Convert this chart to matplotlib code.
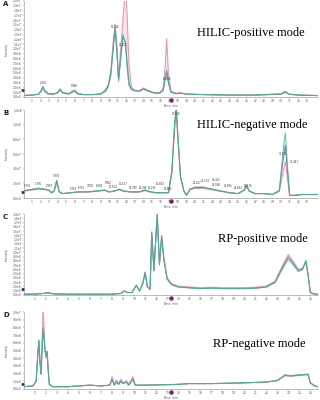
import numpy as np
import matplotlib
matplotlib.use("Agg")
import matplotlib.pyplot as plt
from matplotlib.ticker import FuncFormatter, MultipleLocator

# colours of the overlaid injections
C_GRAY = "#7d8a8f"
C_TEAL = "#3fb5a0"
C_PINK = "#e58fb0"

# ---- panel A : HILIC positive (intensity in 1e7 cps) ----
tA = [0.0, 1.0, 1.8, 2.1, 2.3, 2.5, 2.9, 3.5, 4.0, 4.3, 4.6, 5.0, 5.3, 5.7, 6.0, 6.3,
      7.0, 8.0, 9.0, 9.6, 9.9, 10.2, 10.5, 10.7, 10.9, 11.1, 11.3, 11.6, 11.9, 12.1,
      12.3, 12.6, 13.0, 13.5, 14.0, 14.5, 15.2, 15.9, 16.3, 16.5, 16.7, 16.9, 17.2,
      17.8, 18.3, 19.0, 21.0, 24.0, 27.0, 30.0, 30.5, 30.9, 32.0, 34.3]
grayA = [0.03, 0.04, 0.06, 0.14, 0.22, 0.14, 0.07, 0.06, 0.09, 0.17, 0.09, 0.07, 0.06,
         0.10, 0.12, 0.07, 0.05, 0.05, 0.06, 0.12, 0.22, 0.45, 1.05, 1.40, 0.95, 0.35,
         0.70, 1.25, 1.15, 0.70, 0.30, 0.16, 0.13, 0.12, 0.17, 0.13, 0.09, 0.08, 0.14,
         0.35, 0.52, 0.30, 0.10, 0.07, 0.08, 0.06, 0.05, 0.04, 0.04, 0.06, 0.10, 0.06,
         0.04, 0.03]
tealA = [0.03, 0.04, 0.06, 0.13, 0.20, 0.13, 0.07, 0.06, 0.09, 0.16, 0.09, 0.08, 0.07,
         0.12, 0.15, 0.08, 0.05, 0.05, 0.06, 0.14, 0.24, 0.50, 1.10, 1.46, 1.00, 0.33,
         0.75, 1.30, 1.10, 0.60, 0.25, 0.15, 0.13, 0.12, 0.16, 0.12, 0.08, 0.08, 0.15,
         0.38, 0.56, 0.30, 0.10, 0.07, 0.08, 0.06, 0.05, 0.04, 0.04, 0.07, 0.12, 0.06,
         0.04, 0.03]
pinkA = [0.03, 0.04, 0.05, 0.11, 0.18, 0.11, 0.06, 0.06, 0.08, 0.14, 0.08, 0.08, 0.07,
         0.11, 0.13, 0.07, 0.05, 0.05, 0.06, 0.16, 0.26, 0.55, 1.20, 1.52, 1.10, 0.38,
         0.90, 1.60, 2.30, 1.70, 0.70, 0.20, 0.14, 0.13, 0.19, 0.14, 0.09, 0.09, 0.20,
         0.60, 1.22, 0.50, 0.12, 0.08, 0.09, 0.06, 0.05, 0.04, 0.04, 0.06, 0.10, 0.06,
         0.04, 0.03]
peaksA = [(2.3, 0.26, "2.305"), (6.0, 0.19, "5.986"), (10.7, 1.42, "10.706"),
          (11.6, 1.05, "11.651"), (16.7, 0.34, "16.690")]

# ---- panel B : HILIC negative (intensity in 1e8 cps) ----
tB = [0.0, 0.5, 1.2, 1.8, 2.5, 3.0, 3.3, 3.6, 3.9, 4.2, 4.6, 5.5, 6.5, 7.5, 8.5, 9.5,
      10.0, 10.6, 11.2, 11.7, 12.5, 13.5, 14.2, 14.8, 15.5, 16.3, 16.9, 17.3, 17.6,
      17.8, 18.0, 18.3, 18.7, 19.0, 19.4, 20.0, 21.0, 22.0, 23.0, 24.0, 25.0, 25.7,
      26.0, 26.3, 27.0, 28.0, 29.0, 29.8, 30.2, 30.5, 30.8, 31.0, 31.5, 32.5, 34.3]
grayB = [0.096, 0.108, 0.120, 0.132, 0.120, 0.108, 0.072, 0.096, 0.240, 0.084, 0.060,
         0.072, 0.084, 0.084, 0.096, 0.108, 0.084, 0.096, 0.120, 0.096, 0.084, 0.084,
         0.108, 0.084, 0.072, 0.072, 0.072, 0.360, 0.960, 1.22, 0.840, 0.300, 0.096,
         0.036, 0.120, 0.144, 0.144, 0.120, 0.096, 0.072, 0.060, 0.108, 0.168, 0.096,
         0.060, 0.060, 0.048, 0.096, 0.480, 0.720, 0.300, 0.036, 0.036, 0.048, 0.048]
tealB = [0.096, 0.108, 0.120, 0.132, 0.120, 0.108, 0.072, 0.096, 0.230, 0.084, 0.060,
         0.072, 0.084, 0.084, 0.096, 0.108, 0.084, 0.096, 0.120, 0.096, 0.084, 0.084,
         0.108, 0.084, 0.072, 0.072, 0.072, 0.380, 1.000, 1.26, 0.860, 0.300, 0.096,
         0.036, 0.120, 0.150, 0.150, 0.120, 0.096, 0.072, 0.060, 0.110, 0.180, 0.096,
         0.060, 0.060, 0.048, 0.110, 0.600, 0.890, 0.360, 0.036, 0.036, 0.048, 0.048]
pinkB = [0.090, 0.100, 0.110, 0.120, 0.115, 0.100, 0.070, 0.090, 0.210, 0.080, 0.060,
         0.070, 0.080, 0.080, 0.090, 0.100, 0.080, 0.090, 0.110, 0.090, 0.080, 0.080,
         0.100, 0.080, 0.070, 0.070, 0.070, 0.340, 0.900, 1.18, 0.800, 0.280, 0.090,
         0.040, 0.110, 0.130, 0.130, 0.110, 0.090, 0.070, 0.060, 0.100, 0.150, 0.090,
         0.060, 0.060, 0.048, 0.090, 0.330, 0.500, 0.220, 0.036, 0.036, 0.048, 0.048]
peaksB = [(0.5, 0.14, "0.739"), (1.8, 0.17, "1.795"), (3.0, 0.14, "2.987"),
          (3.9, 0.27, "3.939"), (5.8, 0.10, "5.764"), (6.8, 0.11, "6.752"),
          (7.8, 0.13, "7.801"), (8.9, 0.14, "8.884"), (9.9, 0.18, "9.902"),
          (10.5, 0.12, "10.524"), (11.6, 0.17, "11.617"), (12.8, 0.11, "12.780"),
          (13.9, 0.11, "14.036"), (15.0, 0.11, "15.105"), (15.9, 0.17, "15.843"),
          (16.8, 0.10, "16.692"), (17.8, 1.12, "17.806"), (20.2, 0.18, "20.207"),
          (21.2, 0.20, "21.174"), (22.5, 0.22, "22.463"), (22.5, 0.15, "22.598"),
          (23.8, 0.14, "23.685"), (25.0, 0.11, "24.893"), (26.2, 0.13, "26.176"),
          (30.3, 0.57, "30.305"), (31.5, 0.47, "31.481")]

# ---- panel C : RP positive (intensity in 1e6 cps) ----
tC = [0.0, 1.0, 1.8, 2.2, 2.6, 4.0, 6.0, 8.0, 8.8, 9.1, 9.4, 9.8, 10.2, 10.5, 10.8,
      11.0, 11.2, 11.45, 11.6, 11.8, 12.1, 12.3, 12.5, 12.7, 13.0, 13.4, 14.0, 15.0,
      16.0, 17.0, 18.0, 19.0, 20.0, 21.0, 22.0, 22.8, 23.5, 24.0, 24.4, 24.9, 25.3,
      25.6, 25.8, 26.0, 26.4, 26.7]
grayC = [0.19, 0.19, 0.38, 0.57, 0.28, 0.19, 0.19, 0.19, 0.38, 0.95, 0.57, 0.57, 2.28,
         0.95, 2.85, 5.32, 1.90, 1.33, 14.8, 5.70, 19.0, 7.22, 13.9, 8.55, 3.80, 2.47,
         1.90, 1.71, 1.52, 1.62, 1.52, 1.52, 1.52, 1.62, 1.90, 3.04, 6.65, 8.93, 7.60,
         5.70, 6.08, 7.98, 4.75, 0.57, 0.19, 0.19]
tealC = [0.19, 0.19, 0.38, 0.50, 0.28, 0.19, 0.19, 0.19, 0.38, 0.90, 0.57, 0.57, 2.20,
         0.95, 2.70, 5.10, 1.90, 1.33, 14.2, 5.60, 18.6, 7.00, 13.5, 8.20, 3.70, 2.40,
         1.85, 1.66, 1.48, 1.57, 1.48, 1.48, 1.48, 1.57, 1.80, 2.90, 6.20, 8.36, 7.20,
         5.50, 5.90, 8.20, 4.60, 0.57, 0.19, 0.19]
pinkC = [0.19, 0.19, 0.38, 0.55, 0.28, 0.19, 0.19, 0.19, 0.38, 1.00, 0.60, 0.60, 2.35,
         1.00, 2.90, 5.40, 2.00, 1.40, 14.6, 5.90, 18.8, 7.40, 13.7, 8.70, 4.00, 2.66,
         2.09, 1.90, 1.71, 1.81, 1.71, 1.71, 1.71, 1.81, 2.09, 3.23, 7.00, 9.50, 8.10,
         6.10, 6.30, 7.60, 4.90, 0.60, 0.19, 0.19]

# ---- panel D : RP negative (intensity in 1e6 cps) ----
tD = [0.0, 0.8, 1.1, 1.25, 1.35, 1.45, 1.55, 1.65, 1.73, 1.82, 1.9, 2.0, 2.1, 2.2,
      2.3, 2.6, 4.0, 5.0, 6.0, 7.0, 7.8, 8.0, 8.2, 8.4, 8.6, 8.8, 9.0, 9.3, 9.5, 9.9,
      10.1, 11.0, 14.0, 15.0, 17.0, 20.0, 22.0, 23.0, 23.7, 24.2, 25.0, 25.8, 26.0,
      26.4, 26.7]
grayD = [0.30, 0.40, 1.00, 4.50, 6.30, 3.50, 1.90, 5.50, 7.80, 6.50, 5.00, 4.20, 4.90,
         2.50, 0.60, 0.30, 0.30, 0.40, 0.50, 0.40, 0.50, 1.30, 0.50, 0.90, 0.60, 1.00,
         0.70, 0.90, 0.50, 1.30, 0.50, 0.50, 0.60, 0.70, 0.70, 0.80, 0.90, 1.10, 1.80,
         1.70, 1.80, 1.90, 0.80, 0.40, 0.30]
tealD = [0.30, 0.40, 1.00, 4.70, 6.40, 3.60, 1.90, 5.70, 8.00, 6.70, 5.00, 4.30, 4.90,
         2.40, 0.60, 0.30, 0.30, 0.40, 0.50, 0.40, 0.50, 1.20, 0.50, 0.90, 0.60, 1.00,
         0.70, 0.90, 0.50, 1.20, 0.50, 0.50, 0.60, 0.70, 0.70, 0.80, 0.90, 1.10, 1.85,
         1.75, 1.85, 1.95, 0.80, 0.40, 0.30]
pinkD = [0.30, 0.40, 0.90, 4.20, 6.00, 3.40, 2.00, 6.50, 10.6, 8.00, 5.20, 4.00, 4.60,
         2.30, 0.60, 0.30, 0.30, 0.40, 0.50, 0.40, 0.50, 1.60, 0.60, 1.20, 0.70, 1.30,
         0.80, 1.10, 0.60, 1.60, 0.50, 0.50, 0.60, 0.70, 0.70, 0.80, 0.90, 1.10, 1.70,
         1.65, 1.75, 1.85, 0.80, 0.40, 0.30]

panels = [
    # letter, title, t, traces, scale, ymax, ystep, xmax, xticks, peaks, axes box (px), title pos
    ("A", "HILIC-positive mode", tA, (grayA, tealA, pinkA), 1e7, 2.0e7, 1e6, 34.3,
     range(1, 34), peaksA, (24, 1, 318, 97), (0.772, 0.67)),
    ("B", "HILIC-negative mode", tB, (grayB, tealB, pinkB), 1e8, 1.2e8, 2e7, 34.3,
     range(1, 34), peaksB, (24, 110, 318, 198), (0.776, 0.83)),
    ("C", "RP-positive mode", tC, (grayC, tealC, pinkC), 1e6, 1.9e7, 1e6, 26.7,
     range(1, 27), [], (24, 214, 318, 295), (0.813, 0.69)),
    ("D", "RP-negative mode", tD, (grayD, tealD, pinkD), 1e6, 1.0e7, 1e6, 26.7,
     range(1, 27), [], (24, 312, 318, 389), (0.80, 0.58)),
]

W, H = 320, 400
fig = plt.figure(figsize=(W / 100, H / 100), dpi=100)


def sci(v, pos):
    if v == 0:
        return "0.0e0"
    e = int(np.floor(np.log10(abs(v)) + 1e-9))
    return f"{v / 10 ** e:.1f}e{e}"


for letter, title, t, traces, scale, ymax, ystep, xmax, xticks, peaks, box, tpos in panels:
    x0, y0, x1, y1 = box
    ax = fig.add_axes([x0 / W, (H - y1) / H, (x1 - x0) / W, (y1 - y0) / H])
    gray, teal, pink = traces
    t = np.array(t)
    g = np.array(gray) * scale
    p = np.array(pink) * scale
    ax.fill_between(t, g, p, where=p > g, color=C_PINK, alpha=0.25, lw=0)
    ax.plot(t, p, color=C_PINK, lw=0.8, alpha=0.9)
    ax.plot(t, g, color=C_GRAY, lw=0.8)
    ax.plot(t, np.array(teal) * scale, color=C_TEAL, lw=0.7, alpha=0.85)
    ax.set_xlim(0.1 if xmax > 30 else 0.0, xmax)
    ax.set_ylim(0, ymax)
    ax.yaxis.set_major_locator(MultipleLocator(ystep))
    ax.yaxis.set_major_formatter(FuncFormatter(sci))
    ax.set_xticks(list(xticks))
    ax.tick_params(labelsize=2.2, length=1, width=0.3, pad=0.6, colors="#555555")
    for s in ("top", "right"):
        ax.spines[s].set_visible(False)
    for s in ("left", "bottom"):
        ax.spines[s].set_linewidth(0.4)
        ax.spines[s].set_color("#8c8c8c")
    ax.set_xlabel("Time, min", fontsize=2.2, labelpad=0.3, color="#555555")
    ax.set_ylabel("Intensity", fontsize=2.2, labelpad=3, color="#555555")
    ax.text(tpos[0], tpos[1], title, transform=ax.transAxes, ha="center", va="center",
            fontsize=9, family="Liberation Serif")
    for px, py, lab in peaks:
        ax.text(px, py * scale, lab, fontsize=1.8, ha="center", va="bottom", color="#333333")
    # cursor marker on the time axis and baseline arrow
    xm = (171 - x0) / (x1 - x0)
    ax.plot([xm], [-0.035 * 90 / (y1 - y0)], marker="o", ms=2.2, color="#7a1f6e",
            transform=ax.transAxes, clip_on=False)
    ax.plot([-0.004], [0.07], marker=">", ms=1.6, color="#1f3a7a",
            transform=ax.transAxes, clip_on=False)
    fig.text(3 / W, 1 - (y0 + 3) / H, letter, fontsize=5, fontweight="bold",
             ha="left", va="center", color="#222222")

fig.savefig("out.png", dpi=100)
